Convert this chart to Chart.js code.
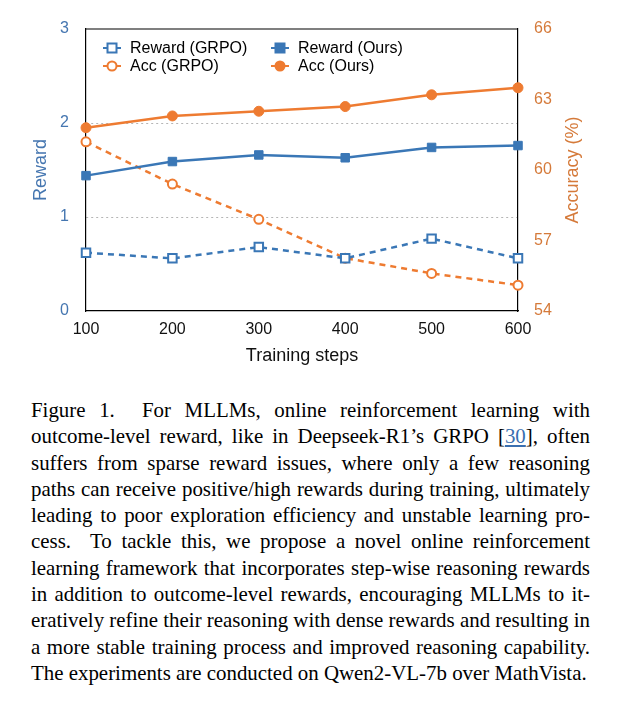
<!DOCTYPE html>
<html>
<head>
<meta charset="utf-8">
<script src="https://cdn.jsdelivr.net/npm/chart.js@4/dist/chart.umd.min.js"></script>
<style>
  body { margin: 0; background: #fff; width: 622px; height: 703px; position: relative; overflow: hidden; }
  #wrap { position: absolute; left: 0; top: 0; width: 622px; height: 380px; }
  #caption {
    position: absolute; left: 31px; top: 397px; width: 559px;
    font-family: "Liberation Serif", "DejaVu Serif", serif; font-size: 20.9px; line-height: 26.3px; color: #000;
  }
  #caption div { white-space: nowrap; text-align: justify; text-align-last: justify; }
  #caption div.last { text-align-last: left; }
  #caption a { color: #3a6fb0; text-decoration: underline; }
</style>
</head>
<body>
<div id="wrap"><canvas id="chart"></canvas></div>
<div id="caption">
  <div>Figure 1.&nbsp; For MLLMs, online reinforcement learning with</div>
  <div>outcome-level reward, like in Deepseek-R1’s GRPO [<a>30</a>], often</div>
  <div>suffers from sparse reward issues, where only a few reasoning</div>
  <div>paths can receive positive/high rewards during training, ultimately</div>
  <div>leading to poor exploration efficiency and unstable learning pro-</div>
  <div>cess.&nbsp; To tackle this, we propose a novel online reinforcement</div>
  <div>learning framework that incorporates step-wise reasoning rewards</div>
  <div>in addition to outcome-level rewards, encouraging MLLMs to it-</div>
  <div>eratively refine their reasoning with dense rewards and resulting in</div>
  <div>a more stable training process and improved reasoning capability.</div>
  <div class="last">The experiments are conducted on Qwen2-VL-7b over MathVista.</div>
</div>
<script>
const steps = ['100', '200', '300', '400', '500', '600'];
const rewardGrpo = [0.62, 0.56, 0.68, 0.56, 0.77, 0.56];
const rewardOurs = [1.44, 1.59, 1.66, 1.63, 1.74, 1.76];
const accGrpo = [61.2, 59.4, 57.9, 56.25, 55.6, 55.1];
const accOurs = [61.8, 62.3, 62.5, 62.7, 63.2, 63.5];
const rewardTicks = [0, 1, 2, 3];
const accTicks = [54, 57, 60, 63, 66];

const blue = '#3a77b6';
const orange = '#ee7b31';
const blueText = '#4576b0';
const orangeText = '#d57a3a';
const sans = '"Liberation Sans", Arial, sans-serif';

// frame top edge, right title (reads upward) and 2x2 legend inside the plot
const framePlugin = {
  id: 'frame',
  afterDraw(chart) {
    const { ctx, chartArea: a } = chart;
    ctx.save();
    ctx.strokeStyle = '#000';
    ctx.lineWidth = 1.2;
    ctx.beginPath();
    ctx.moveTo(a.left, a.top);
    ctx.lineTo(a.right, a.top);
    ctx.stroke();

    ctx.save();
    ctx.translate(a.right + 55, (a.top + a.bottom) / 2);
    ctx.rotate(-Math.PI / 2);
    ctx.font = '18px ' + sans;
    ctx.fillStyle = orangeText;
    ctx.textAlign = 'center';
    ctx.textBaseline = 'middle';
    ctx.fillText('Accuracy (%)', 0, 0);
    ctx.restore();

    const cols = [a.left + 26, a.left + 194];
    const rows = [a.top + 19, a.top + 37];
    ctx.font = '16px ' + sans;
    ctx.textBaseline = 'middle';
    chart.data.datasets.forEach((ds, i) => {
      const x = cols[i % 2], y = rows[Math.floor(i / 2)];
      ctx.strokeStyle = ds.borderColor;
      ctx.lineWidth = 2;
      ctx.setLineDash([]);
      ctx.beginPath();
      ctx.moveTo(x - 9, y);
      ctx.lineTo(x + 9, y);
      ctx.stroke();
      ctx.fillStyle = ds.pointBackgroundColor;
      ctx.beginPath();
      if (ds.pointStyle === 'rect') {
        ctx.rect(x - 4.5, y - 4.5, 9, 9);
      } else {
        ctx.arc(x, y, 4.5, 0, Math.PI * 2);
      }
      ctx.fill();
      ctx.stroke();
      ctx.fillStyle = '#000';
      ctx.textAlign = 'left';
      ctx.fillText(ds.label, x + 18, y + 1);
    });
    ctx.restore();
  }
};

new Chart(document.getElementById('chart'), {
  type: 'line',
  data: {
    labels: steps,
    datasets: [
      {
        label: 'Reward (GRPO)', data: rewardGrpo, yAxisID: 'y',
        borderColor: blue, backgroundColor: '#fff', pointBackgroundColor: '#fff',
        borderDash: [6, 5], borderWidth: 2.5, pointStyle: 'rect', pointRadius: 6,
        pointBorderWidth: 2, clip: false
      },
      {
        label: 'Reward (Ours)', data: rewardOurs, yAxisID: 'y',
        borderColor: blue, backgroundColor: blue, pointBackgroundColor: blue,
        borderWidth: 2.5, pointStyle: 'rect', pointRadius: 6,
        pointBorderWidth: 1, clip: false
      },
      {
        label: 'Acc (GRPO)', data: accGrpo, yAxisID: 'y1',
        borderColor: orange, backgroundColor: '#fff', pointBackgroundColor: '#fff',
        borderDash: [6, 5], borderWidth: 2.5, pointStyle: 'circle', pointRadius: 4.5,
        pointBorderWidth: 2, clip: false
      },
      {
        label: 'Acc (Ours)', data: accOurs, yAxisID: 'y1',
        borderColor: orange, backgroundColor: orange, pointBackgroundColor: orange,
        borderWidth: 2.5, pointStyle: 'circle', pointRadius: 5,
        pointBorderWidth: 1, clip: false
      }
    ]
  },
  options: {
    responsive: true,
    maintainAspectRatio: false,
    animation: false,
    layout: { padding: { top: 29, left: 0, right: 0, bottom: 0 } },
    plugins: { legend: { display: false }, tooltip: { enabled: false } },
    scales: {
      x: {
        offset: false,
        grid: { display: false, drawTicks: false },
        border: { display: true, color: '#000', width: 1.2 },
        ticks: { color: '#111', padding: 9, font: { size: 16, family: sans } },
        title: {
          display: true, text: 'Training steps', color: '#111',
          font: { size: 18, family: sans },
          padding: { top: 0, bottom: 13 }
        },
        afterFit: s => { s.height = 69; }
      },
      y: {
        position: 'left', min: 0, max: 3,
        afterBuildTicks: s => { s.ticks = rewardTicks.map(v => ({ value: v })); },
        grid: {
          drawTicks: false,
          color: c => (c.tick && (c.tick.value === 1 || c.tick.value === 2)) ? '#b5b5b5' : 'rgba(0,0,0,0)',
          lineWidth: 1
        },
        border: { display: true, color: '#000', width: 1.2, dash: [2, 3] },
        ticks: { color: blueText, padding: 17, font: { size: 16, family: sans } },
        title: {
          display: true, text: 'Reward', color: blueText,
          font: { size: 18, family: sans },
          padding: { top: 30, bottom: 0 }
        },
        afterFit: s => { s.width = 86; }
      },
      y1: {
        position: 'right', min: 54, max: 66,
        afterBuildTicks: s => { s.ticks = accTicks.map(v => ({ value: v })); },
        grid: { drawOnChartArea: false, drawTicks: false },
        border: { display: true, color: '#000', width: 1.2 },
        ticks: { color: orangeText, padding: 16, font: { size: 16, family: sans } },
        title: { display: false },
        afterFit: s => { s.width = 104; }
      }
    }
  },
  plugins: [framePlugin]
});
</script>
</body>
</html>
